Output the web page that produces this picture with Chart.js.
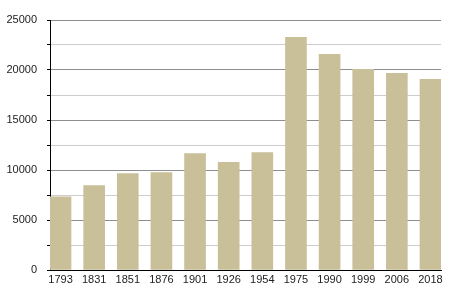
<!DOCTYPE html>
<html>
<head>
<meta charset="utf-8">
<script src="https://cdn.jsdelivr.net/npm/chart.js@4"></script>
<style>
  html, body { margin: 0; padding: 0; background: #fff; }
  #wrap { width: 450px; height: 300px; }
</style>
</head>
<body>
<div id="wrap"><canvas id="c" width="450" height="300"></canvas></div>
<script>
const years = ['1793','1831','1851','1876','1901','1926','1954','1975','1990','1999','2006','2018'];
const population = [7320, 8450, 9630, 9730, 11640, 10760, 11740, 23270, 21560, 20060, 19660, 19060];
const yTicksMajor = [0, 5000, 10000, 15000, 20000, 25000];

const points = population.map((v, i) => ({ x: i, y: v }));

new Chart(document.getElementById('c'), {
  type: 'bar',
  data: {
    labels: years,
    datasets: [{
      data: points,
      backgroundColor: '#c9c09a',
      borderWidth: 0,
      barThickness: 21
    }]
  },
  options: {
    responsive: false,
    animation: false,
    devicePixelRatio: 1,
    layout: { padding: { top: 20, right: 9, left: 0, bottom: 0 } },
    plugins: { legend: { display: false }, tooltip: { enabled: false } },
    scales: {
      x: {
        type: 'linear',
        offset: false,
        min: -0.3125,
        max: years.length - 1 + 0.3125,
        afterBuildTicks: (s) => { s.ticks = years.map((_, i) => ({ value: i })); },
        afterFit: (s) => { s.height = 30; },
        grid: { display: false, drawTicks: false, offset: false },
        border: { display: true, color: '#000', width: 1 },
        ticks: {
          autoSkip: false,
          maxRotation: 0,
          padding: 3,
          color: '#222',
          font: { family: 'Liberation Sans', size: 11 },
          callback: (v) => years[v]
        }
      },
      y: {
        min: 0,
        max: 25000,
        afterFit: (s) => { s.width = 50; },
        grid: {
          color: (c) => (c.tick && yTicksMajor.includes(c.tick.value)) ? '#8e8e8e' : '#cdcdcd',
          tickColor: '#000',
          tickLength: 3,
          lineWidth: 1
        },
        border: { display: true, color: '#000', width: 1 },
        ticks: {
          stepSize: 2500,
          padding: 10,
          color: '#222',
          font: { family: 'Liberation Sans', size: 11 },
          callback: (v) => yTicksMajor.includes(v) ? String(v) : ''
        }
      }
    }
  }
});
</script>
</body>
</html>
